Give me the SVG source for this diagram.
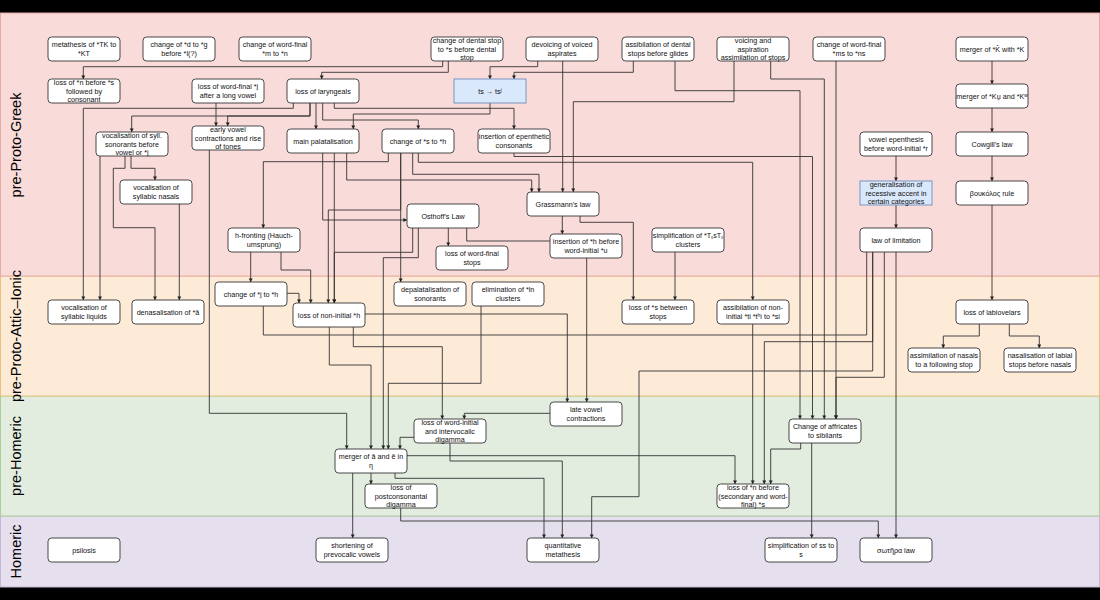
<svg xmlns="http://www.w3.org/2000/svg" width="1100" height="600" viewBox="0 0 1100 600">
<defs>
<style>
.n rect{fill:#fff;stroke:#333;stroke-width:0.9}
.b rect{fill:#dae8fc;stroke:#6c8ebf;stroke-width:0.9}
text{font-family:"Liberation Sans",Arial,sans-serif;font-size:7.2px;fill:#111;text-anchor:middle}
.lane{font-size:14.5px;fill:#000}
#edges polyline{fill:none;stroke:#333;stroke-width:0.9;marker-end:url(#ar)}
</style>
<marker id="ar" markerUnits="userSpaceOnUse" markerWidth="5" markerHeight="5" refX="3.6" refY="2" orient="auto"><path d="M0,0 L3.6,2 L0,4 z" fill="#222"/></marker>
</defs>
<rect x="0" y="0" width="1100" height="600" fill="#000"/>
<g id="lanes">
<rect x="0.5" y="516" width="1099" height="71" fill="#e6dfee" stroke="#c9b6d6"/>
<rect x="0.5" y="396" width="1099" height="120" fill="#e2eddf" stroke="#a9cf9b"/>
<rect x="0.5" y="276" width="1099" height="120" fill="#fdebd8" stroke="#e6c47e"/>
<rect x="0.5" y="13" width="1099" height="263" fill="#f9dbd9" stroke="#e6aaa5"/>
<text class="lane" transform="translate(21,145) rotate(-90)">pre-Proto-Greek</text>
<text class="lane" transform="translate(21,336) rotate(-90)">pre-Proto-Attic–Ionic</text>
<text class="lane" transform="translate(21,456) rotate(-90)">pre-Homeric</text>
<text class="lane" transform="translate(21,551.5) rotate(-90)">Homeric</text>
</g>
<g id="edges">
<polyline points="442.7,61 442.7,66.7 83.3,66.7 83.3,79"/>
<polyline points="448.3,61 448.3,72.3 321.7,72.3 321.7,79"/>
<polyline points="537.7,61 537.7,66.7 490,66.7 490,79"/>
<polyline points="562.7,61 562.7,192"/>
<polyline points="633.3,61 633.3,72.3 514,72.3 514,79"/>
<polyline points="675,61 675,90.7 800,90.7 800,419"/>
<polyline points="734,61 734,101.7 573.3,101.7 573.3,192"/>
<polyline points="770.7,61 770.7,79 824.3,79 824.3,419"/>
<polyline points="836,61 836,419"/>
<polyline points="514,153 514,156.5 812.5,156.5 812.5,419"/>
<polyline points="293.3,103 293.3,108.3 83.3,108.3 83.3,300"/>
<polyline points="310,103 310,116 131.7,116 131.7,132"/>
<polyline points="310,103 310,116 227.7,116 227.7,126"/>
<polyline points="316,103 316,129"/>
<polyline points="322.7,103 322.7,120 418.3,120 418.3,129"/>
<polyline points="334.3,103 334.3,108.3 514,108.3 514,129"/>
<polyline points="490,103 490,114 353.3,114 353.3,129"/>
<polyline points="216,103 216,126"/>
<polyline points="388.3,153 388.3,161.7 263.3,161.7 263.3,228"/>
<polyline points="400.7,153 400.7,282"/>
<polyline points="400.7,153 400.7,210 328.3,210 328.3,303"/>
<polyline points="412.7,153 412.7,174.3 539,174.3 539,192"/>
<polyline points="418.3,153 418.3,162.3 752.7,162.3 752.7,300"/>
<polyline points="346.7,153 346.7,180 531.7,180 531.7,192"/>
<polyline points="322.7,153 322.7,220 407,220"/>
<polyline points="334.3,153 334.3,303"/>
<polyline points="412.7,228 412.7,252.3 334.3,252.3 334.3,303"/>
<polyline points="250.7,252 250.7,282"/>
<polyline points="281,252 281,270 310.7,270 310.7,303"/>
<polyline points="287,293.3 299,293.3 299,303"/>
<polyline points="209.3,150 209.3,413.3 346.7,413.3 346.7,449"/>
<polyline points="100,156 100,300"/>
<polyline points="131,156 131,168.3 155,168.3 155,180"/>
<polyline points="125,156 125,168.3 113.3,168.3 113.3,227.7 155,227.7 155,300"/>
<polyline points="179.3,204 179.3,300"/>
<polyline points="562.3,216 562.3,234"/>
<polyline points="580,216 580,222.3 633.3,222.3 633.3,300"/>
<polyline points="675,252 675,300"/>
<polyline points="448.3,228 448.3,246"/>
<polyline points="466.7,228 466.7,241 586.7,241 586.7,402"/>
<polyline points="418.3,228 418.3,257.7 383.3,257.7 383.3,449"/>
<polyline points="481,306 481,383.3 388.3,383.3 388.3,449"/>
<polyline points="365,314 567.3,314 567.3,402"/>
<polyline points="353.3,327 353.3,346.7 442.3,346.7 442.3,419"/>
<polyline points="329.3,327 329.3,365 371,365 371,449"/>
<polyline points="414,437.3 400,437.3 400,449"/>
<polyline points="550,413.3 464.3,413.3 464.3,419"/>
<polyline points="866.7,252 866.7,335 263.3,335 263.3,306" style="marker-end:none"/>
<polyline points="872.7,252 872.7,341.7 764.3,341.7 764.3,484"/>
<polyline points="872.7,252 872.7,371 639,371 639,496.7 591.7,496.7 591.7,538"/>
<polyline points="884.3,252 884.3,377.3 836,377.3 836,419"/>
<polyline points="896,252 896,538"/>
<polyline points="371,473 371,484"/>
<polyline points="352.7,473 352.7,538"/>
<polyline points="395,473 395,478.3 544,478.3 544,538"/>
<polyline points="407,455.7 735,455.7 735,484"/>
<polyline points="450,443 450,461 562.3,461 562.3,538"/>
<polyline points="400.7,508 400.7,521 878.3,521 878.3,538"/>
<polyline points="800.7,443 800.7,449 770.7,449 770.7,484"/>
<polyline points="811.7,443 811.7,538"/>
<polyline points="752.7,324 752.7,484"/>
<polyline points="979.3,324 979.3,336 943.3,336 943.3,348"/>
<polyline points="1009.3,324 1009.3,336 1039.3,336 1039.3,348"/>
<polyline points="992,61 992,84"/>
<polyline points="992,108 992,132"/>
<polyline points="992,156 992,181"/>
<polyline points="992,205 992,300"/>
<polyline points="896,156 896,181"/>
<polyline points="896,205 896,228"/>
</g>
<g id="n1" class="n"><rect x="48" y="37" width="72" height="24" rx="3.6"/><text x="84" y="47.3">metathesis of *TK to</text><text x="84" y="55.9">*KT</text></g>
<g id="n2" class="n"><rect x="143" y="37" width="72" height="24" rx="3.6"/><text x="179" y="47.3">change of *d to *g</text><text x="179" y="55.9">before *l(?)</text></g>
<g id="n3" class="n"><rect x="239" y="37" width="72" height="24" rx="3.6"/><text x="275" y="47.3">change of word-final</text><text x="275" y="55.9">*m to *n</text></g>
<g id="n4" class="n"><rect x="431" y="37" width="72" height="24" rx="3.6"/><text x="467" y="43">change of dental stop</text><text x="467" y="51.6">to *s before dental</text><text x="467" y="60.2">stop</text></g>
<g id="n5" class="n"><rect x="526" y="37" width="72" height="24" rx="3.6"/><text x="562" y="47.3">devoicing of voiced</text><text x="562" y="55.9">aspirates</text></g>
<g id="n6" class="n"><rect x="622" y="37" width="72" height="24" rx="3.6"/><text x="658" y="47.3">assibilation of dental</text><text x="658" y="55.9">stops before glides</text></g>
<g id="n7" class="n"><rect x="717" y="37" width="72" height="24" rx="3.6"/><text x="753" y="43">voicing and</text><text x="753" y="51.6">aspiration</text><text x="753" y="60.2">assimilation of stops</text></g>
<g id="n8" class="n"><rect x="813" y="37" width="72" height="24" rx="3.6"/><text x="849" y="47.3">change of word-final</text><text x="849" y="55.9">*ms to *ns</text></g>
<g id="n9" class="n"><rect x="956" y="37" width="72" height="24" rx="3.6"/><text x="992" y="51.6">merger of *K̂ with *K</text></g>
<g id="n10" class="n"><rect x="48" y="79" width="72" height="24" rx="3.6"/><text x="84" y="85">loss of *n before *s</text><text x="84" y="93.6">followed by</text><text x="84" y="102.2">consonant</text></g>
<g id="n11" class="n"><rect x="192" y="79" width="72" height="24" rx="3.6"/><text x="228" y="89.3">loss of word-final *i̯</text><text x="228" y="97.9">after a long vowel</text></g>
<g id="n12" class="n"><rect x="287" y="79" width="72" height="24" rx="3.6"/><text x="323" y="93.6">loss of laryngeals</text></g>
<g id="n13" class="b"><rect x="454" y="79" width="72" height="24"/><text x="490" y="93.6">ts → tsʲ</text></g>
<g id="n14" class="n"><rect x="956" y="84" width="72" height="24" rx="3.6"/><text x="992" y="98.6">merger of *Ku̯ and *Kʷ</text></g>
<g id="n15" class="n"><rect x="96" y="132" width="72" height="24" rx="3.6"/><text x="132" y="138">vocalisation of syll.</text><text x="132" y="146.6">sonorants before</text><text x="132" y="155.2">vowel or *i̯</text></g>
<g id="n16" class="n"><rect x="192" y="126" width="72" height="24" rx="3.6"/><text x="228" y="132">early vowel</text><text x="228" y="140.6">contractions and rise</text><text x="228" y="149.2">of tones</text></g>
<g id="n17" class="n"><rect x="287" y="129" width="72" height="24" rx="3.6"/><text x="323" y="143.6">main palatalisation</text></g>
<g id="n18" class="n"><rect x="382" y="129" width="72" height="24" rx="3.6"/><text x="418" y="143.6">change of *s to *h</text></g>
<g id="n19" class="n"><rect x="478" y="129" width="72" height="24" rx="3.6"/><text x="514" y="139.3">insertion of epenthetic</text><text x="514" y="147.9">consonants</text></g>
<g id="n20" class="n"><rect x="860" y="132" width="72" height="24" rx="3.6"/><text x="896" y="142.3">vowel epenthesis</text><text x="896" y="150.9">before word-initial *r</text></g>
<g id="n21" class="n"><rect x="956" y="132" width="72" height="24" rx="3.6"/><text x="992" y="146.6">Cowgill's law</text></g>
<g id="n22" class="n"><rect x="120" y="180" width="72" height="24" rx="3.6"/><text x="156" y="190.3">vocalisation of</text><text x="156" y="198.9">syllabic nasals</text></g>
<g id="n23" class="b"><rect x="860" y="181" width="72" height="24"/><text x="896" y="187">generalisation of</text><text x="896" y="195.6">recessive accent in</text><text x="896" y="204.2">certain categories</text></g>
<g id="n24" class="n"><rect x="956" y="181" width="72" height="24" rx="3.6"/><text x="992" y="195.6">βουκόλος rule</text></g>
<g id="n25" class="n"><rect x="527" y="192" width="72" height="24" rx="3.6"/><text x="563" y="206.6">Grassmann's law</text></g>
<g id="n26" class="n"><rect x="407" y="204" width="72" height="24" rx="3.6"/><text x="443" y="218.6">Osthoff's Law</text></g>
<g id="n27" class="n"><rect x="228" y="228" width="72" height="24" rx="3.6"/><text x="264" y="238.3">h-fronting (Hauch-</text><text x="264" y="246.9">umsprung)</text></g>
<g id="n28" class="n"><rect x="652" y="228" width="72" height="24" rx="3.6"/><text x="688" y="238.3">simplification of *TₛsTₛ</text><text x="688" y="246.9">clusters</text></g>
<g id="n29" class="n"><rect x="860" y="228" width="72" height="24" rx="3.6"/><text x="896" y="242.6">law of limitation</text></g>
<g id="n30" class="n"><rect x="550" y="234" width="72" height="24" rx="3.6"/><text x="586" y="244.3">insertion of *h before</text><text x="586" y="252.9">word-initial *u</text></g>
<g id="n31" class="n"><rect x="436" y="246" width="72" height="24" rx="3.6"/><text x="472" y="256.3">loss of word-final</text><text x="472" y="264.9">stops</text></g>
<g id="n32" class="n"><rect x="215" y="282" width="72" height="24" rx="3.6"/><text x="251" y="296.6">change of *i̯ to *h</text></g>
<g id="n33" class="n"><rect x="394" y="282" width="72" height="24" rx="3.6"/><text x="430" y="292.3">depalatalisation of</text><text x="430" y="300.9">sonorants</text></g>
<g id="n34" class="n"><rect x="472" y="282" width="72" height="24" rx="3.6"/><text x="508" y="292.3">elimination of *ln</text><text x="508" y="300.9">clusters</text></g>
<g id="n35" class="n"><rect x="48" y="300" width="72" height="24" rx="3.6"/><text x="84" y="310.3">vocalisation of</text><text x="84" y="318.9">syllabic liquids</text></g>
<g id="n36" class="n"><rect x="132" y="300" width="72" height="24" rx="3.6"/><text x="168" y="314.6">denasalisation of *ā</text></g>
<g id="n37" class="n"><rect x="293" y="303" width="72" height="24" rx="3.6"/><text x="329" y="317.6">loss of non-initial *h</text></g>
<g id="n38" class="n"><rect x="622" y="300" width="72" height="24" rx="3.6"/><text x="658" y="310.3">loss of *s between</text><text x="658" y="318.9">stops</text></g>
<g id="n39" class="n"><rect x="717" y="300" width="72" height="24" rx="3.6"/><text x="753" y="310.3">assibilation of non-</text><text x="753" y="318.9">initial *ti *tʰi to *si</text></g>
<g id="n40" class="n"><rect x="956" y="300" width="72" height="24" rx="3.6"/><text x="992" y="314.6">loss of labiovelars</text></g>
<g id="n41" class="n"><rect x="908" y="348" width="72" height="24" rx="3.6"/><text x="944" y="358.3">assimilation of nasals</text><text x="944" y="366.9">to a following stop</text></g>
<g id="n42" class="n"><rect x="1004" y="348" width="72" height="24" rx="3.6"/><text x="1040" y="358.3">nasalisation of labial</text><text x="1040" y="366.9">stops before nasals</text></g>
<g id="n43" class="n"><rect x="550" y="402" width="72" height="24" rx="3.6"/><text x="586" y="412.3">late vowel</text><text x="586" y="420.9">contractions</text></g>
<g id="n44" class="n"><rect x="414" y="419" width="72" height="24" rx="3.6"/><text x="450" y="425">loss of word-initial</text><text x="450" y="433.6">and intervocalic</text><text x="450" y="442.2">digamma</text></g>
<g id="n45" class="n"><rect x="789" y="419" width="72" height="24" rx="3.6"/><text x="825" y="429.3">Change of affricates</text><text x="825" y="437.9">to sibilants</text></g>
<g id="n46" class="n"><rect x="335" y="449" width="72" height="24" rx="3.6"/><text x="371" y="459.3">merger of ā and ē in</text><text x="371" y="467.9">η</text></g>
<g id="n47" class="n"><rect x="365" y="484" width="72" height="24" rx="3.6"/><text x="401" y="490">loss of</text><text x="401" y="498.6">postconsonantal</text><text x="401" y="507.2">digamma</text></g>
<g id="n48" class="n"><rect x="717" y="484" width="72" height="24" rx="3.6"/><text x="753" y="490">loss of *n before</text><text x="753" y="498.6">(secondary and word-</text><text x="753" y="507.2">final) *s</text></g>
<g id="n49" class="n"><rect x="48" y="538" width="72" height="24" rx="3.6"/><text x="84" y="552.6">psilosis</text></g>
<g id="n50" class="n"><rect x="316" y="538" width="72" height="24" rx="3.6"/><text x="352" y="548.3">shortening of</text><text x="352" y="556.9">prevocalic vowels</text></g>
<g id="n51" class="n"><rect x="527" y="538" width="72" height="24" rx="3.6"/><text x="563" y="548.3">quantitative</text><text x="563" y="556.9">metathesis</text></g>
<g id="n52" class="n"><rect x="765" y="538" width="72" height="24" rx="3.6"/><text x="801" y="548.3">simplification of ss to</text><text x="801" y="556.9">s</text></g>
<g id="n53" class="n"><rect x="860" y="538" width="72" height="24" rx="3.6"/><text x="896" y="552.6">σωτῆρα law</text></g>
</svg>
